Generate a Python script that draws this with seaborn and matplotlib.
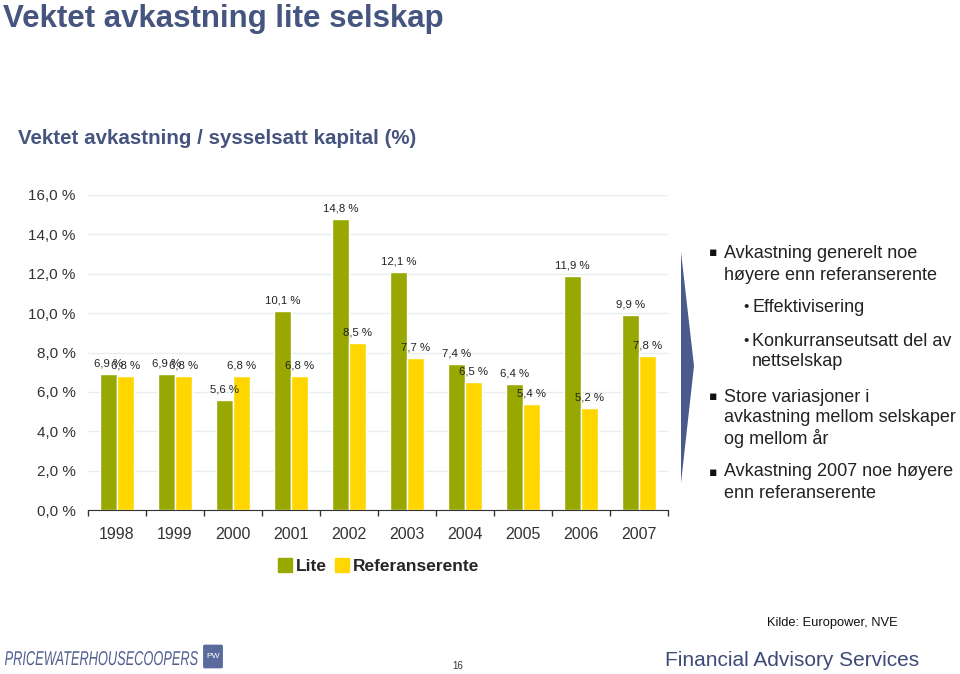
import pandas as pd
import numpy as np
import matplotlib.pyplot as plt
import seaborn as sns
from matplotlib.patches import Polygon, FancyBboxPatch, PathPatch
from matplotlib.lines import Line2D
from matplotlib.textpath import TextPath
from matplotlib.font_manager import FontProperties
from matplotlib.transforms import Affine2D

years = ['1998', '1999', '2000', '2001', '2002', '2003', '2004', '2005', '2006', '2007']
lite = [6.9, 6.9, 5.6, 10.1, 14.8, 12.1, 7.4, 6.4, 11.9, 9.9]
referanse = [6.8, 6.8, 6.8, 6.8, 8.5, 7.7, 6.5, 5.4, 5.2, 7.8]
series_names = ['Lite', 'Referanserente']
yticks = [0, 2, 4, 6, 8, 10, 12, 14, 16]

green = '#99a800'
yellow = '#ffd600'
navy = '#46557f'

df = pd.DataFrame({
    'År': years * 2,
    'Avkastning': lite + referanse,
    'Serie': [series_names[0]] * len(years) + [series_names[1]] * len(years),
})

sns.set_style('white')
plt.rcParams['font.family'] = ['Liberation Sans', 'DejaVu Sans']

fig = plt.figure(figsize=(9.6, 6.74), dpi=100)
ax = fig.add_axes([88 / 960, 1 - 510 / 674, 580 / 960, 315 / 674])

sns.barplot(data=df, x='År', y='Avkastning', hue='Serie', palette=[green, yellow],
            width=0.58, saturation=1, ax=ax, legend=False)

for cont in ax.containers:
    ax.bar_label(cont, labels=[f'{v:.1f} %'.replace('.', ',') for v in cont.datavalues],
                 padding=4, fontsize=8.2, color='#222222')

ax.set_ylim(0, 16)
ax.set_xlim(-0.5, len(years) - 0.5)
ax.set_yticks(yticks)
ax.set_yticklabels([f'{v:.1f} %'.replace('.', ',') for v in yticks], fontsize=11, color='#333333')
ax.tick_params(axis='y', length=0, pad=9)
ax.set_xticks(range(len(years)))
ax.set_xticklabels(years, fontsize=11.5, color='#333333')
ax.set_xticks(np.arange(-0.5, len(years)), minor=True)
ax.tick_params(axis='x', which='major', length=0, pad=12)
ax.tick_params(axis='x', which='minor', length=4, width=1, color='#333333', direction='out', bottom=True)
ax.set_xlabel('')
ax.set_ylabel('')
ax.grid(axis='y', color='#e6eef0', linewidth=1)
ax.set_axisbelow(True)
for s in ['left', 'right', 'top']:
    ax.spines[s].set_visible(False)
ax.spines['bottom'].set_color('#333333')

# legend below the chart
handles = [Line2D([0], [0], marker='s', linestyle='', markersize=10, color=c) for c in [green, yellow]]
fig.legend(handles, series_names, loc='center', bbox_to_anchor=(378 / 960, 1 - 566 / 674),
           ncol=2, frameon=False, prop={'size': 12.5, 'weight': 'bold'}, handletextpad=0.1,
           columnspacing=0.4, handlelength=1.0)

# titles
fig.text(3 / 960, 1 - 19 / 674, 'Vektet avkastning lite selskap', fontsize=22.5, fontweight='bold',
         color=navy, va='center', ha='left')
fig.text(18 / 960, 1 - 138 / 674, 'Vektet avkastning / sysselsatt kapital (%)', fontsize=14.8,
         fontweight='bold', color=navy, va='center', ha='left')

# arrow shape
arrow = Polygon([(681 / 960, 1 - 252 / 674), (694 / 960, 1 - 366 / 674), (681 / 960, 1 - 483 / 674)],
                closed=True, transform=fig.transFigure, facecolor='#4a5a8c', edgecolor='none')
fig.patches.append(arrow)

# bullet text: (y, bullet kind, indent x, text)
bullets = [
    (253, 'sq', 724, 'Avkastning generelt noe'),
    (275, None, 724, 'høyere enn referanserente'),
    (307, 'dot', 752, 'Effektivisering'),
    (341, 'dot', 752, 'Konkurranseutsatt del av'),
    (362, None, 752, 'nettselskap'),
    (397, 'sq', 724, 'Store variasjoner i'),
    (418, None, 724, 'avkastning mellom selskaper'),
    (439, None, 724, 'og mellom år'),
    (472, 'sq', 724, 'Avkastning 2007 noe høyere'),
    (494, None, 724, 'enn referanserente'),
]
for y, kind, x, txt in bullets:
    yy = 1 - y / 674
    if kind == 'dot':
        fig.text(743 / 960, yy, '•', fontsize=11, va='center', ha='left', color='#222222')
    elif kind == 'sq':
        fig.text(709 / 960, yy, '▪', fontsize=9, va='center', ha='left', color='#111111',
                 family=['DejaVu Sans'])
    fig.text(x / 960, yy, txt, fontsize=13, va='center', ha='left', color='#222222')

# footer
fig.text(767 / 960, 1 - 623 / 674, 'Kilde: Europower, NVE', fontsize=9.3, va='center', ha='left',
         color='#111111')
fig.text(458 / 960, 1 - 666 / 674, '16', fontsize=7, va='center', ha='center', color='#333333')
fig.text(665 / 960, 1 - 660 / 674, 'Financial Advisory Services', fontsize=15, va='center',
         ha='left', color='#3d4a78')

# company wordmark, squeezed horizontally to fit like the original
tp = TextPath((0, 0), 'PRICEWATERHOUSECOOPERS', size=20,
              prop=FontProperties(family='Liberation Sans', style='italic'))
ext = tp.get_extents()
sx = 193 / ext.width
wordmark = PathPatch(tp, transform=Affine2D().translate(-ext.x0, 0).scale(sx / 960, 1 / 674)
                     .translate(5 / 960, (674 - 665) / 674) + fig.transFigure,
                     facecolor='#4f5f8f', edgecolor='none')
fig.patches.append(wordmark)
logo = FancyBboxPatch((205 / 960, 1 - 667 / 674), 16 / 960, 21 / 674,
                      boxstyle='round,pad=0.002', transform=fig.transFigure,
                      facecolor='#5a6a9c', edgecolor='none')
fig.patches.append(logo)
fig.text(213 / 960, 1 - 656 / 674, 'PW', fontsize=6, color='white', ha='center', va='center')

fig.savefig('out.png', dpi=100)
